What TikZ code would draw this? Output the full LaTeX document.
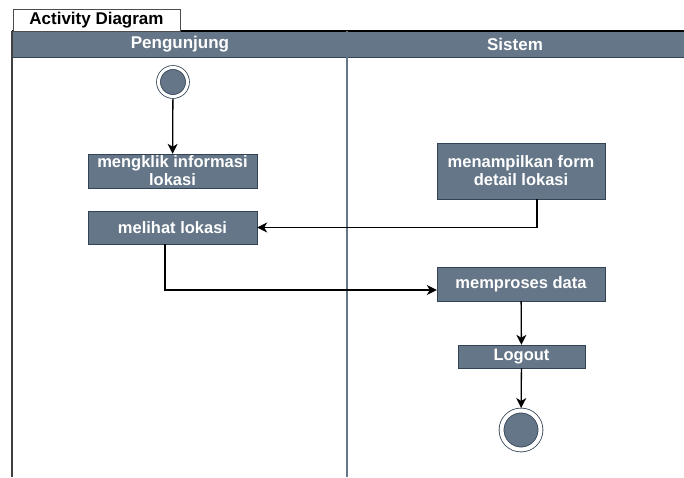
\documentclass[tikz,border=0pt]{standalone}
\usepackage{fontspec}
\setmainfont{Liberation Sans}
\usetikzlibrary{arrows.meta, positioning, calc}
\definecolor{adslate}{HTML}{647687}
\definecolor{adstroke}{HTML}{314354}

\begin{document}
\begin{tikzpicture}[x=1pt, y=-1pt,
  action/.style={rectangle, draw=adstroke, fill=adslate, text=white, minimum width=169pt, minimum height=34pt, inner sep=0pt, align=center, font=\bfseries\fontsize{16.5}{18}\selectfont},
  lanehead/.style={text=white, font=\bfseries\fontsize{17}{18}\selectfont},
  terminal/.style={circle, fill=adslate, draw=adstroke, double=white, line width=0.8pt, inner sep=0pt, outer sep=2.5pt},
  arrow/.style={-{Stealth[length=10pt, width=10pt, inset=3pt]}, line width=1.3pt, draw=black}
]
\useasboundingbox (0,0) rectangle (684,477);
% Swimlanes
\fill[adslate] (12,31) rectangle (684,57);
\draw[line width=1.5pt, black] (12,31) -- (684,31);
\draw[adstroke] (12,57) -- (684,57);
\draw[line width=1.8pt, black!75] (12,31) -- (12,477);
\draw[line width=1.2pt, adslate] (347,31) -- (347,477);
\node[lanehead] (lanePeng) at (180,44) {Pengunjung};
\node[lanehead] (laneSys) at (515,44) {Sistem};
% Tab
\draw[black!70, fill=white] (13,31) rectangle (180,9);
\node[font=\bfseries\fontsize{17}{18}\selectfont] (title) at (96.5,20.5) {Activity Diagram};
% Actions
\node[terminal, minimum size=29pt, double distance=3pt] (start) at (173,82) {};
\node[action] (click) at (172.5,171) {mengklik informasi\\lokasi};
\node[action, minimum height=33pt] (view) at (172.5,227.5) {melihat lokasi};
\node[action, minimum width=168pt, minimum height=56pt] (form) at (521,171) {menampilkan form\\detail lokasi};
\node[action, minimum width=168pt] (proc) at (521,284) {memproses data};
\node[action, minimum width=127pt, minimum height=23pt] (logout) at (521.5,356.5) {Logout};
\node[terminal, minimum size=39pt, double distance=4pt] (end) at (521,430) {};
\draw[arrow] (start) -- (click);
\draw[arrow] ($(form.south)+(16,0)$) |- (view.east);
\draw[arrow] ($(view.south)+(-7.5,0)$) |- ($(proc.west)+(0,6)$);
\draw[arrow] (proc) -- (logout);
\draw[arrow] (logout) -- (end);
\end{tikzpicture}
\end{document}
